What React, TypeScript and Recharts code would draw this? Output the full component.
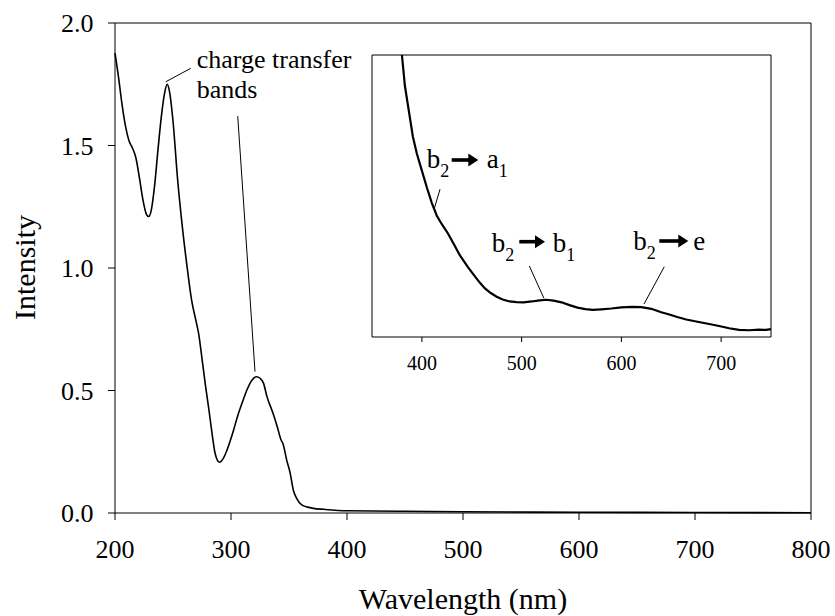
import React from 'react';
import { LineChart, Line, XAxis, YAxis, ReferenceLine } from 'recharts';

// main spectrum (nm, intensity)
const wavelength = [
  200, 203, 206, 209, 212, 215, 218, 221, 224, 227, 229, 231, 234, 237, 240, 243, 245, 247, 250, 254,
  258, 262, 266, 270, 272, 275, 278, 281, 283.5, 286, 288, 290, 293, 296, 299, 302, 306, 310, 314, 318,
  322, 325, 328, 331, 336, 340, 343, 345, 348, 351, 353.7, 356.6, 361, 366, 371, 380, 400, 450, 500, 600,
  700, 800,
];
const intensity = [
  1.877, 1.78, 1.67, 1.58, 1.52, 1.49, 1.45, 1.37, 1.28, 1.22, 1.21, 1.23, 1.33, 1.48, 1.62, 1.72, 1.75, 1.72, 1.6, 1.36,
  1.17, 1.01, 0.87, 0.78, 0.735, 0.63, 0.52, 0.42, 0.33, 0.25, 0.218, 0.207, 0.22, 0.25, 0.29, 0.335, 0.4, 0.455, 0.505, 0.542,
  0.556, 0.55, 0.53, 0.475, 0.41, 0.35, 0.3, 0.28, 0.216, 0.163, 0.094, 0.06, 0.033, 0.024, 0.019, 0.015, 0.009, 0.007, 0.005, 0.003,
  0.002, 0.001,
];

// inset (visible region, arbitrary units)
const insetWavelength = [
  370, 375, 380, 383, 387, 391, 395, 400, 405, 410, 415, 420, 426, 432, 438, 446, 452, 458, 463, 469,
  475, 481, 488, 495, 502, 510, 518, 525, 532, 540, 548, 556, 564, 571, 580, 590, 600, 611, 620, 630,
  640, 648, 656, 665, 675, 688, 698, 708, 718, 728, 738, 745, 750,
];
const insetIntensity = [
  1.25, 1.12, 1.0, 0.89, 0.8, 0.71, 0.65, 0.59, 0.53, 0.475, 0.43, 0.4, 0.368, 0.33, 0.29, 0.249, 0.22, 0.193, 0.173, 0.156,
  0.143, 0.133, 0.126, 0.124, 0.123, 0.126, 0.13, 0.132, 0.129, 0.123, 0.113, 0.104, 0.099, 0.096, 0.098, 0.101, 0.105, 0.107, 0.106, 0.1,
  0.088, 0.08, 0.071, 0.062, 0.055, 0.046, 0.039, 0.031, 0.025, 0.024, 0.026, 0.025, 0.028,
];

const xTicks = [200, 300, 400, 500, 600, 700, 800];
const yTicks = [0, 0.5, 1.0, 1.5, 2.0];
const insetTicks = [400, 500, 600, 700];

const FONT = "'Liberation Serif', 'Times New Roman', serif";

const mainData = wavelength.map((w, i) => ({ w, v: intensity[i] }));
const insetData = insetWavelength.map((w, i) => ({ w, v: insetIntensity[i] }));

function Arrow({ x1, x2, y }: { x1: number; x2: number; y: number }) {
  return (
    <g>
      <rect x={x1} y={y - 1.8} width={x2 - x1 - 9} height={3.6} fill="#000" />
      <polygon points={`${x2 - 10},${y - 6.5} ${x2},${y} ${x2 - 10},${y + 6.5}`} fill="#000" />
    </g>
  );
}

function Sym({ x, y, main, sub }: { x: number; y: number; main: string; sub?: string }) {
  return (
    <text x={x} y={y} fill="#000" fontSize={27} fontFamily={FONT}>
      {main}
      {sub && (
        <tspan dy={9} fontSize={18}>
          {sub}
        </tspan>
      )}
    </text>
  );
}

export default function App() {
  return (
    <div style={{ position: 'absolute', left: 0, top: 0, width: 835, height: 616, background: '#fff' }}>
      <LineChart width={835} height={616} data={mainData} margin={{ top: 23, right: 24, bottom: 43, left: 55 }}>
        <XAxis
          dataKey="w"
          type="number"
          domain={[200, 800]}
          ticks={xTicks}
          height={60}
          tickSize={7}
          tickMargin={20}
          stroke="#000"
          tick={{ fontSize: 26, fill: '#000', fontFamily: FONT }}
        />
        <YAxis
          type="number"
          domain={[0, 2]}
          ticks={yTicks}
          width={60}
          tickSize={7}
          tickMargin={14.5}
          stroke="#000"
          tickFormatter={(v: number) => v.toFixed(1)}
          tick={{ fontSize: 26, fill: '#000', fontFamily: FONT }}
        />
        <ReferenceLine y={2} stroke="#000" />
        <ReferenceLine x={800} stroke="#000" />
        <ReferenceLine segment={[{ x: 243.7, y: 1.76 }, { x: 265.3, y: 1.815 }]} stroke="#000" />
        <ReferenceLine segment={[{ x: 305.8, y: 1.62 }, { x: 320.7, y: 0.577 }]} stroke="#000" />
        <Line dataKey="v" type="monotone" stroke="#000" strokeWidth={1.6} dot={false} isAnimationActive={false} />
      </LineChart>

      <div style={{ position: 'absolute', left: 371, top: 54 }}>
        <LineChart width={401} height={329} data={insetData} margin={{ top: 1, right: 1, bottom: 0, left: 1 }}>
          <XAxis
            dataKey="w"
            type="number"
            domain={[350, 750]}
            ticks={insetTicks}
            height={46}
            tickSize={5}
            tickMargin={14}
            stroke="#000"
            tick={{ fontSize: 20, fill: '#000', fontFamily: FONT }}
          />
          <YAxis type="number" domain={[0, 1]} allowDataOverflow hide />
          <ReferenceLine y={1} stroke="#000" />
          <ReferenceLine x={350} stroke="#000" />
          <ReferenceLine x={750} stroke="#000" />
          <ReferenceLine segment={[{ x: 418.2, y: 0.524 }, { x: 412.5, y: 0.456 }]} stroke="#000" />
          <ReferenceLine segment={[{ x: 507.7, y: 0.252 }, { x: 522.4, y: 0.137 }]} stroke="#000" />
          <ReferenceLine segment={[{ x: 643, y: 0.249 }, { x: 622.7, y: 0.117 }]} stroke="#000" />
          <Line dataKey="v" type="linear" stroke="#000" strokeWidth={2.2} dot={false} isAnimationActive={false} />
        </LineChart>
      </div>

      <svg width={835} height={616} style={{ position: 'absolute', left: 0, top: 0, pointerEvents: 'none' }}>
        <text x={196.7} y={68} fill="#000" fontSize={26} fontFamily={FONT}>charge transfer</text>
        <text x={196.7} y={98.3} fill="#000" fontSize={26} fontFamily={FONT}>bands</text>

        <Sym x={426.7} y={168.3} main="b" sub="2" />
        <Arrow x1={451.7} x2={478.3} y={160} />
        <Sym x={486.7} y={168.3} main="a" sub="1" />

        <Sym x={491.7} y={251.7} main="b" sub="2" />
        <Arrow x1={519.3} x2={545} y={241.7} />
        <Sym x={552.7} y={251.7} main="b" sub="1" />

        <Sym x={633.3} y={250} main="b" sub="2" />
        <Arrow x1={659.3} x2={688.3} y={241} />
        <Sym x={693.3} y={250} main="e" />

        <text x={463} y={609} fill="#000" textAnchor="middle" fontSize={30} fontFamily={FONT}>
          Wavelength (nm)
        </text>
        <text
          x={35}
          y={267.5}
          fill="#000"
          textAnchor="middle"
          transform="rotate(-90, 35, 267.5)"
          fontSize={30}
          fontFamily={FONT}
        >
          Intensity
        </text>
      </svg>
    </div>
  );
}
